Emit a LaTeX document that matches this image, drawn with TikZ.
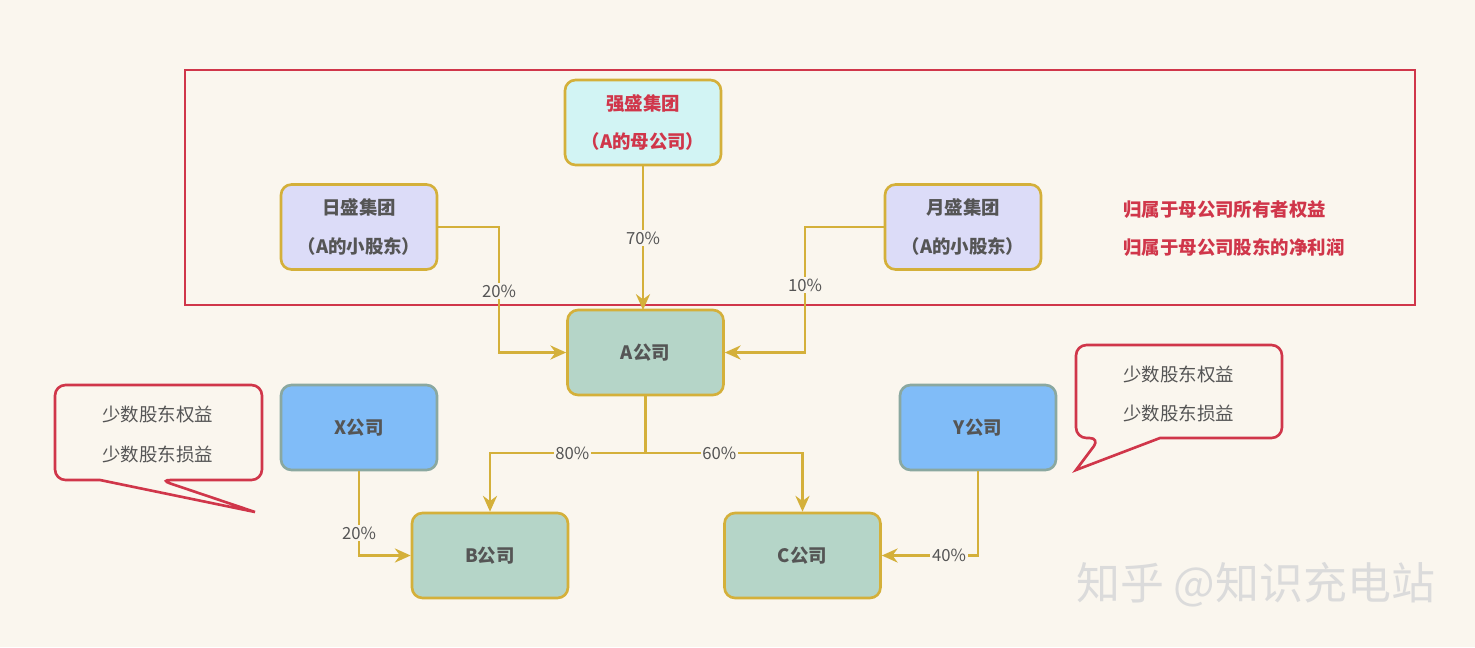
\documentclass[tikz,border=0pt]{standalone}
\usepackage{fontspec}
\setmainfont{Noto Sans CJK SC}
\usetikzlibrary{arrows.meta}
\definecolor{bg}{HTML}{FAF6EE}
\definecolor{gold}{HTML}{D4B03A}
\definecolor{redc}{HTML}{D0364A}
\definecolor{txt}{HTML}{555555}
\definecolor{cyanf}{HTML}{D2F4F4}
\definecolor{lav}{HTML}{DCDCF8}
\definecolor{grn}{HTML}{B5D5C8}
\definecolor{blu}{HTML}{80BCF8}
\definecolor{bluB}{HTML}{8AA8A0}
\begin{document}
\begin{tikzpicture}[x=0.02cm,y=-0.02cm,
 box/.style={draw=gold,line width=1.5pt,rounded corners=6pt,minimum width=3.12cm,minimum height=1.7cm,align=center,text=txt,font=\fontsize{10.5}{22}\selectfont\bfseries},
 bbox/.style={box,draw=bluB,fill=blu},
 conn/.style={draw=gold,line width=1.6pt},
 arr/.style={conn,-{Stealth[length=9pt,width=8pt]}},
 pct/.style={fill=bg,inner sep=1pt,text=txt,font=\fontsize{9.5}{10}\selectfont},
 rt/.style={text=redc,font=\fontsize{10.5}{12}\selectfont\bfseries,anchor=west},
 ct/.style={text=txt,font=\fontsize{10.5}{12}\selectfont,anchor=west}]
\fill[bg] (0,0) rectangle (1475,647);
\useasboundingbox (0,0) rectangle (1475,647);
\draw[redc,line width=1.5pt] (185,70) rectangle (1415,305);
\node[box,fill=cyanf,text=redc] (q) at (643,122.5) {强盛集团\\（A的母公司）};
\node[box,fill=lav] (r) at (359,227) {日盛集团\\（A的小股东）};
\node[box,fill=lav] (y) at (963,227) {月盛集团\\（A的小股东）};
\node[box,fill=grn] (a) at (645.5,352.5) {A公司};
\node[bbox] (x) at (359,427.5) {X公司};
\node[bbox] (yc) at (978,427.5) {Y公司};
\node[box,fill=grn] (b) at (490,555.5) {B公司};
\node[box,fill=grn] (c) at (802.5,555.5) {C公司};
\node[rt] (t1) at (1117,210) {归属于母公司所有者权益};
\node[rt] (t2) at (1117,248) {归属于母公司股东的净利润};
% callouts
\draw[redc,line width=1.5pt,fill=bg,rounded corners=6pt] (100,480) -- (55,480) -- (55,385) -- (262,385) -- (262,480) -- (160,480) [sharp corners]-- (255,512) -- (100,480) -- cycle;
\draw[redc,line width=1.5pt,fill=bg,rounded corners=6pt] (1160,438) -- (1282,438) -- (1282,345) -- (1076,345) -- (1076,438) -- (1100,438) [sharp corners] -- (1076,470) -- (1160,438) -- cycle;
\node[ct] (l1) at (96,414) {少数股东权益};
\node[ct] (l2) at (96,454) {少数股东损益};
\node[ct] (r1) at (1117,374) {少数股东权益};
\node[ct] (r2) at (1117,413) {少数股东损益};
% connectors
\coordinate (qa) at (643,310);
\draw[arr] (q.south) -- node[pct,pos=0.5]{70\%} (qa);
\draw[arr] (r.east) -| (499,291) node[pct,pos=1]{20\%} |- (a.west);
\draw[arr] (y.west) -| (805,285) node[pct,pos=1]{10\%} |- (a.east);
\coordinate (j) at (645.5,453);
\draw[conn] (a.south) -- (j);
\draw[arr] (j) -- node[pct,pos=0.47]{80\%} (490,453) -- (b.north);
\draw[arr] (j) -- node[pct,pos=0.47]{60\%} (802.5,453) -- (c.north);
\draw[arr] (x.south) -- (359,533) node[pct]{20\%} |- (b.west);
\draw[arr] (yc.south) |- node[pct,pos=0.65]{40\%} (c.east);
\node[text=white!72!gray,font=\fontsize{25}{28}\selectfont,anchor=west] (w) at (1070,585) {知乎 @知识充电站};
\end{tikzpicture}
\end{document}
